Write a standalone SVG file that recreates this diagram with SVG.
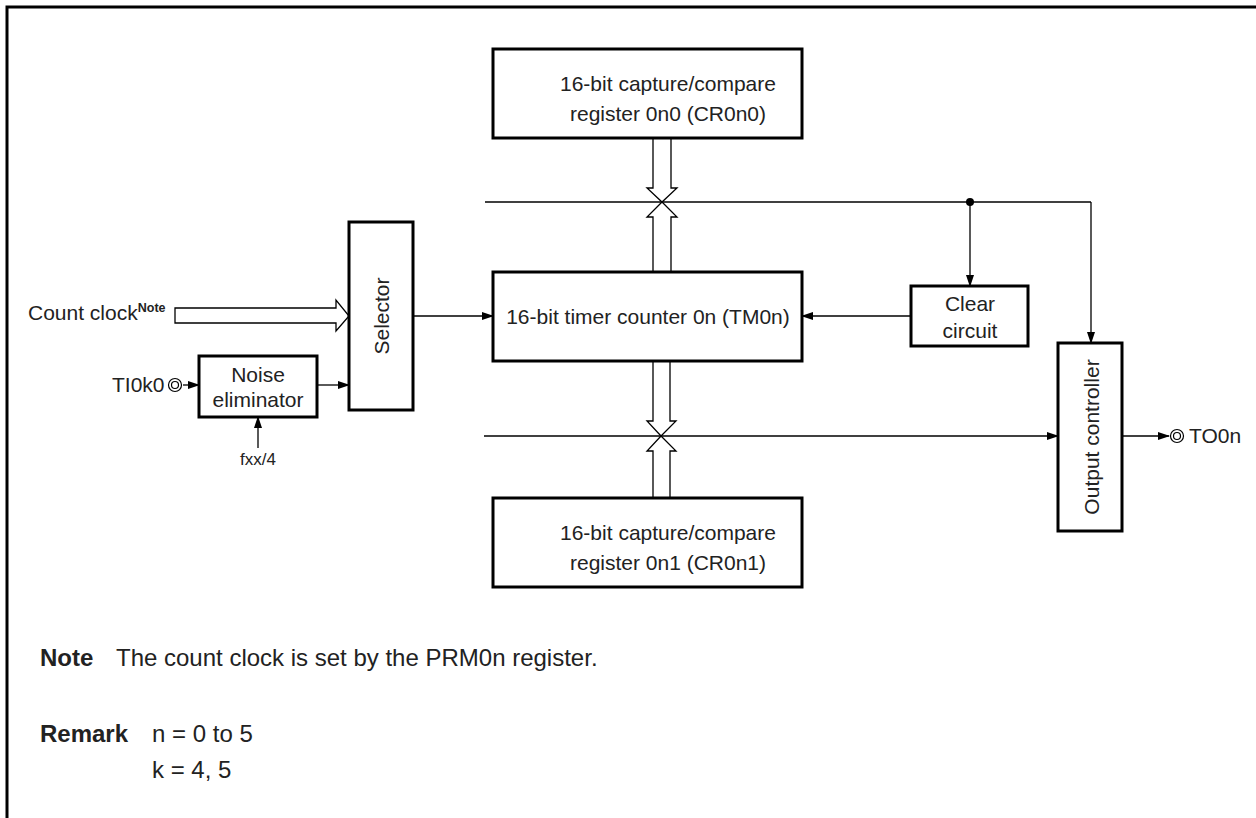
<svg xmlns="http://www.w3.org/2000/svg" width="1256" height="818" viewBox="0 0 1256 818">
<defs>
<style>
text{font-family:"Liberation Sans",Arial,sans-serif;fill:#222;}
.t{font-size:21px;}
.c{text-anchor:middle;}
.n{font-size:24px;}
.b{font-weight:bold;}
.box{fill:#fff;stroke:#000;stroke-width:3;}
.ln{fill:none;stroke:#000;stroke-width:1.3;}
.bus{fill:#fff;stroke:#000;stroke-width:1.3;}
</style>
<marker id="ah" markerWidth="12" markerHeight="8" refX="11" refY="4" orient="auto" markerUnits="userSpaceOnUse">
<path d="M0,0 L12,4 L0,8 Z" fill="#000"/>
</marker>
</defs>
<rect x="0" y="0" width="1256" height="818" fill="#fff"/>
<path d="M7,818 V7 H1256" fill="none" stroke="#000" stroke-width="3"/>

<g id="connectors">
<polygon class="bus" points="175,308 336,308 336,300 349,316 336,331 336,323 175,323"/>
<line class="ln" x1="485" y1="202" x2="1091" y2="202"/>
<line class="ln" x1="1091" y1="202" x2="1091" y2="343" marker-end="url(#ah)"/>
<line class="ln" x1="970" y1="202" x2="970" y2="286" marker-end="url(#ah)"/>
<circle cx="970" cy="202" r="4" fill="#000"/>
<line class="ln" x1="484" y1="436" x2="1058" y2="436" marker-end="url(#ah)"/>
<path class="bus" d="M653,138 V188 H647 L662,202 L677,188 H671 V138"/>
<path class="bus" d="M653,272 V217 H647 L662,202 L677,217 H671 V272"/>
<path class="bus" d="M653,361 V421 H647 L661,436 L676,421 H670 V361"/>
<path class="bus" d="M653,498 V451 H647 L661,436 L676,451 H670 V498"/>
<line class="ln" x1="413" y1="316" x2="493" y2="316" marker-end="url(#ah)"/>
<line class="ln" x1="911" y1="316" x2="802" y2="316" marker-end="url(#ah)"/>
<line class="ln" x1="317" y1="385" x2="349" y2="385" marker-end="url(#ah)"/>
<line class="ln" x1="183" y1="385" x2="199" y2="385" marker-end="url(#ah)"/>
<line class="ln" x1="258" y1="448" x2="258" y2="417" marker-end="url(#ah)"/>
<line class="ln" x1="1122" y1="436" x2="1169" y2="436" marker-end="url(#ah)"/>
</g>

<g id="cr0n0">
<rect class="box" x="493" y="49" width="309" height="89"/>
<text class="t c" x="668" y="91">16-bit capture/compare</text>
<text class="t c" x="668" y="121">register 0n0 (CR0n0)</text>
</g>
<g id="tm0n">
<rect class="box" x="493" y="272" width="309" height="89"/>
<text class="t c" x="648" y="324">16-bit timer counter 0n (TM0n)</text>
</g>
<g id="cr0n1">
<rect class="box" x="493" y="498" width="309" height="89"/>
<text class="t c" x="668" y="540">16-bit capture/compare</text>
<text class="t c" x="668" y="570">register 0n1 (CR0n1)</text>
</g>
<g id="selector">
<rect class="box" x="349" y="222" width="64" height="188"/>
<text class="t c" transform="translate(389,316) rotate(-90)">Selector</text>
</g>
<g id="noise">
<rect class="box" x="199" y="356" width="118" height="61"/>
<text class="t c" x="258" y="382">Noise</text>
<text class="t c" x="258" y="407">eliminator</text>
</g>
<g id="clear">
<rect class="box" x="911" y="286" width="117" height="60"/>
<text class="t c" x="970" y="311">Clear</text>
<text class="t c" x="970" y="338">circuit</text>
</g>
<g id="output">
<rect class="box" x="1058" y="343" width="64" height="188"/>
<text class="t c" transform="translate(1099,437) rotate(-90)">Output controller</text>
</g>
<g id="count-clock">
<text class="t" x="28" y="320">Count clock<tspan class="b" font-size="12.5" dy="-8">Note</tspan></text>
</g>
<g id="ti0k0">
<text class="t" x="112" y="392">TI0k0</text>
<circle cx="175" cy="385" r="6.5" fill="#fff" stroke="#000" stroke-width="1.2"/>
<circle cx="175" cy="385" r="3.5" fill="none" stroke="#000" stroke-width="1.2"/>
</g>
<g id="fxx">
<text x="258" y="465" class="c" font-size="17">fxx/4</text>
</g>
<g id="to0n">
<circle cx="1177" cy="436" r="6.5" fill="#fff" stroke="#000" stroke-width="1.2"/>
<circle cx="1177" cy="436" r="3.5" fill="none" stroke="#000" stroke-width="1.2"/>
<text class="t" x="1189" y="443">TO0n</text>
</g>
<g id="notes">
<text class="n b" x="40" y="666">Note</text>
<text class="n" x="116" y="666">The count clock is set by the PRM0n register.</text>
<text class="n b" x="40" y="742">Remark</text>
<text class="n" x="152" y="742">n = 0 to 5</text>
<text class="n" x="152" y="778">k = 4, 5</text>
</g>
</svg>
